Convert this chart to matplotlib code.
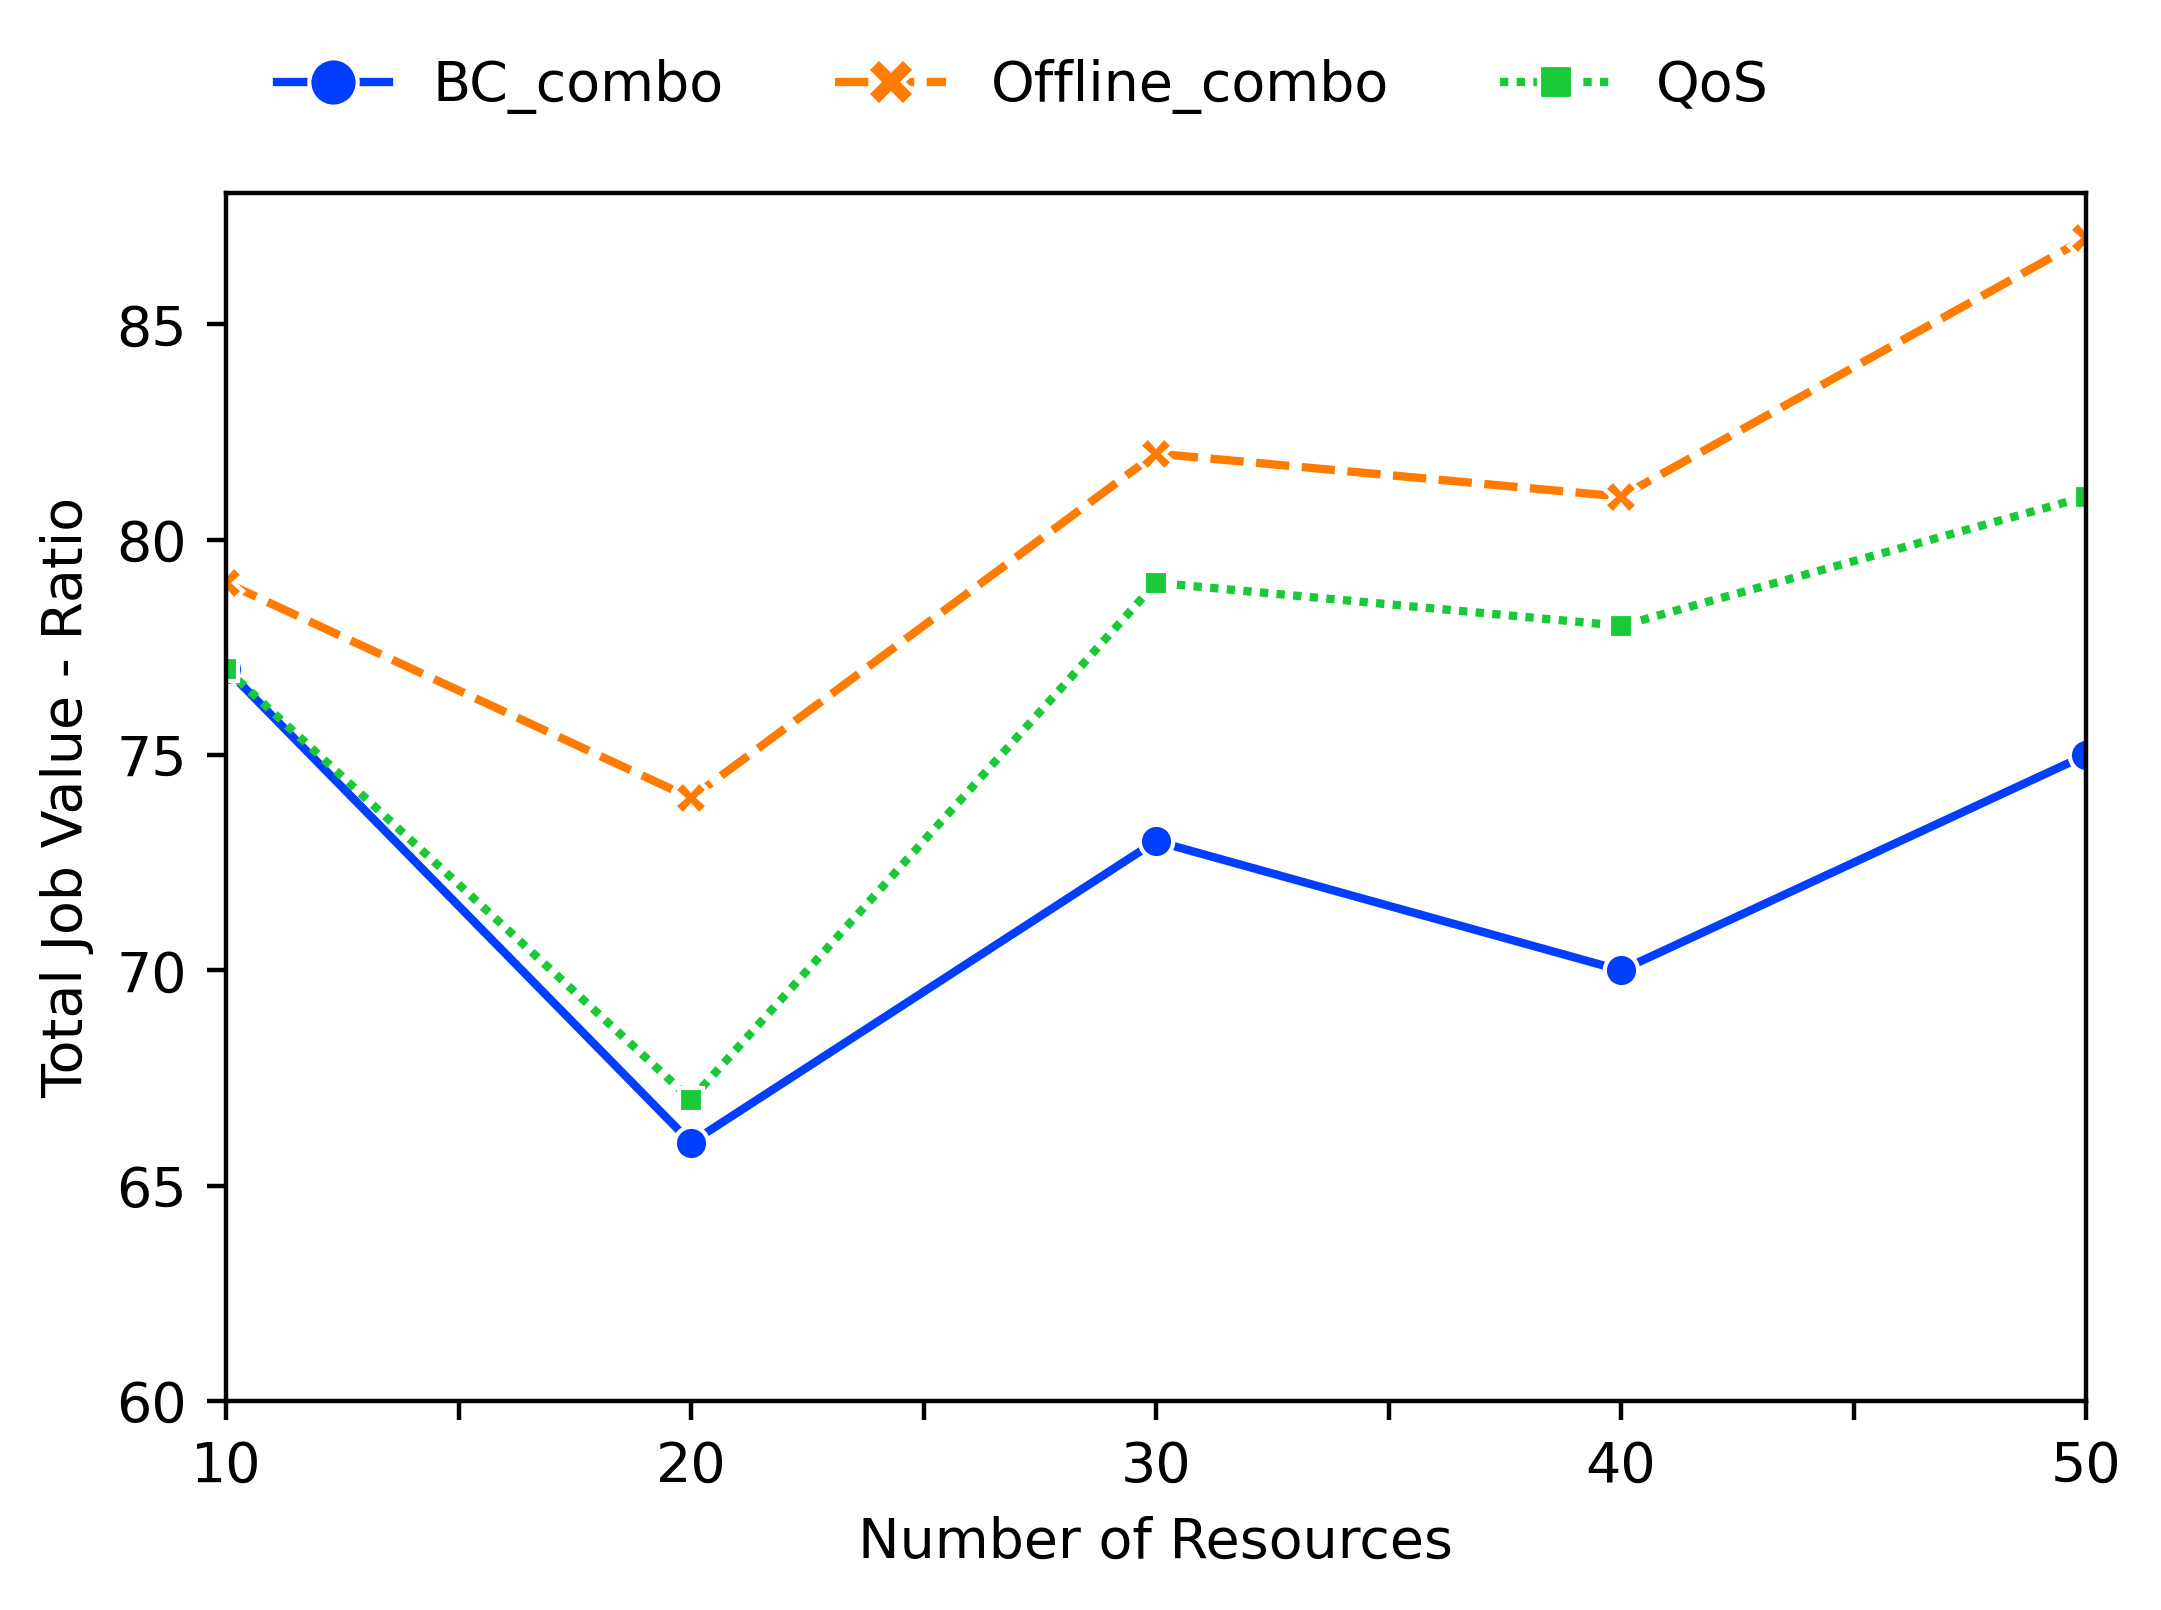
import matplotlib
matplotlib.use("Agg")
import matplotlib.pyplot as plt

resources = [10, 20, 30, 40, 50]
bc_combo = [77, 66, 73, 70, 75]
offline_combo = [79, 74, 82, 81, 87]
qos = [77, 67, 79, 78, 81]

series = [
    ("BC_combo", bc_combo, "#023eff", "o", ""),
    ("Offline_combo", offline_combo, "#ff7c00", "X", (4, 1.5)),
    ("QoS", qos, "#1ac938", (4, 0, 45), (1, 1)),
]

dpi = 400
fig = plt.figure(figsize=(2161 / dpi, 1610 / dpi), dpi=dpi)
ax = fig.add_axes([226 / 2161, 1 - 1401 / 1610, 1860 / 2161, 1208 / 1610])

for label, vals, color, marker, dash in series:
    line, = ax.plot(resources, vals, color=color, lw=1.5, marker=marker,
                    markersize=6, markeredgecolor="white", markeredgewidth=0.75,
                    label=label)
    if dash:
        line.set_dashes(dash)

ax.set_xlim(10, 50)
ax.set_ylim(bottom=60)
ax.set_xticks(range(10, 55, 5))
ax.set_xticklabels([str(v) if v % 10 == 0 else "" for v in range(10, 55, 5)])
ax.set_yticks([60, 65, 70, 75, 80, 85])
ax.set_xlabel("Number of Resources")
ax.set_ylabel("Total Job Value - Ratio")

fig.legend(loc="center", bbox_to_anchor=(1023 / 2161, 1 - 87 / 1610), ncol=3,
           frameon=False, markerscale=1.45)

fig.savefig("out.png", dpi=dpi)
